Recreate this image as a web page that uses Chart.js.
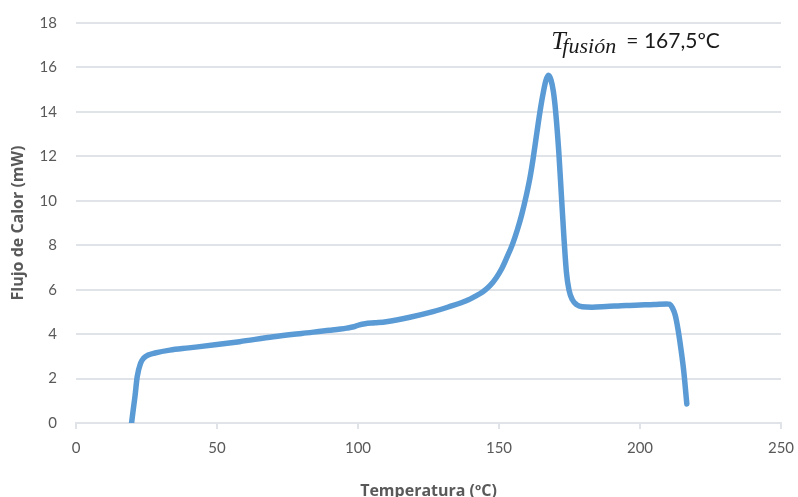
<!DOCTYPE html>
<html>
<head>
<meta charset="utf-8">
<script src="https://cdn.jsdelivr.net/npm/chart.js@4.4.1/dist/chart.umd.min.js"></script>
<style>
  html, body { margin: 0; padding: 0; background: #ffffff; }
  #wrap { width: 798px; height: 497px; position: relative; }
</style>
</head>
<body>
<div id="wrap"><canvas id="dsc"></canvas></div>
<script>
// DSC heating curve: temperature (ºC) vs heat flow (mW)
const temperature = [
  19.7, 20.3, 20.9, 21.7, 22.9, 24.0, 25.6, 28.0, 33.3, 40.0,
  50.0, 58.0, 70.0, 80.0, 90.0, 96.0, 98.5, 100.5, 102.5, 106.0,
  110.0, 118.4, 126.6, 132.0, 138.4, 141.5, 144.3, 146.8, 149.1, 151.0,
  152.8, 154.8, 156.4, 158.0, 159.7, 161.0, 162.1, 163.3, 164.4, 165.6,
  166.6, 167.5, 168.4, 169.3, 170.1, 171.2, 172.1, 173.0, 173.9, 174.8,
  176.0, 177.5, 179.5, 183.0, 188.0, 195.0, 200.0, 205.0, 209.5, 210.5,
  211.5, 212.5, 213.5, 214.5, 215.5, 216.6
];
const heatFlow = [
  0.00, 0.60, 1.18, 2.08, 2.69, 2.92, 3.06, 3.15, 3.28, 3.38,
  3.53, 3.66, 3.88, 4.03, 4.17, 4.27, 4.33, 4.42, 4.47, 4.51,
  4.56, 4.76, 5.01, 5.22, 5.50, 5.70, 5.91, 6.18, 6.55, 6.95,
  7.45, 8.05, 8.65, 9.35, 10.25, 11.05, 11.90, 12.95, 13.90, 14.80,
  15.40, 15.65, 15.45, 14.90, 14.00, 12.20, 10.30, 8.40, 6.80, 6.00,
  5.55, 5.33, 5.23, 5.21, 5.24, 5.29, 5.31, 5.33, 5.36, 5.34,
  5.18, 4.85, 4.20, 3.35, 2.35, 0.86
];
const xTicks = [0, 50, 100, 150, 200, 250];
const yTicks = [0, 2, 4, 6, 8, 10, 12, 14, 16, 18];
const meltingPoint = 167.5;
const meltingLabel = '= 167,5ºC';

const points = temperature.map((t, i) => ({ x: t, y: heatFlow[i] }));

const labelGray = '#595959';
const gridGray = '#e0e3e7';

// Melting temperature note written above the peak: T_fusión = 167,5ºC
const meltingNote = {
  id: 'meltingNote',
  afterDraw(chart) {
    const ctx = chart.ctx;
    const xs = chart.scales.x;
    const x0 = xs.getPixelForValue(meltingPoint);
    ctx.save();
    ctx.fillStyle = '#1a1a1a';
    ctx.textBaseline = 'alphabetic';
    ctx.textAlign = 'left';
    ctx.font = 'italic 26px "Liberation Serif", "DejaVu Serif", serif';
    ctx.fillText('T', x0 + 3, 49);
    ctx.font = 'italic 22px "Liberation Serif", "DejaVu Serif", serif';
    ctx.fillText('fusión', x0 + 14, 53);
    ctx.font = '21px Lato, "Open Sans", sans-serif';
    ctx.fillText(meltingLabel, x0 + 78, 48);
    ctx.restore();
  }
};

new Chart(document.getElementById('dsc'), {
  type: 'line',
  data: {
    datasets: [{
      data: points,
      borderColor: '#5b9bd5',
      borderWidth: 5.5,
      pointRadius: 0,
      fill: false,
      cubicInterpolationMode: 'monotone',
      borderCapStyle: 'round',
      borderJoinStyle: 'round'
    }]
  },
  options: {
    responsive: true,
    maintainAspectRatio: false,
    animation: false,
    layout: { padding: { top: 23, right: 17, bottom: 0, left: 0 } },
    plugins: { legend: { display: false }, tooltip: { enabled: false } },
    scales: {
      x: {
        type: 'linear',
        min: 0,
        max: 250,
        afterBuildTicks(scale) { scale.ticks = xTicks.map(v => ({ value: v })); },
        afterFit(scale) {
          scale.height = 74;
          scale.paddingLeft = 0;
          scale.paddingRight = 0;
        },
        grid: { drawOnChartArea: false, drawTicks: true, tickLength: 6, color: gridGray, lineWidth: 2 },
        border: { display: true, color: gridGray, width: 2 },
        ticks: { color: labelGray, padding: 10, font: { family: 'Lato, "Open Sans", sans-serif', size: 15 } },
        title: {
          display: true,
          text: 'Temperatura (ºC)',
          color: labelGray,
          padding: { top: 0, bottom: -3.6 },
          font: { family: '"Open Sans", Lato, sans-serif', size: 16, weight: 'bold' }
        }
      },
      y: {
        min: 0,
        max: 18,
        afterBuildTicks(scale) { scale.ticks = yTicks.map(v => ({ value: v })); },
        afterFit(scale) {
          scale.width = 76;
          scale.paddingTop = 0;
          scale.paddingBottom = 0;
        },
        grid: { drawTicks: false, color: gridGray, lineWidth: 2 },
        border: { display: false },
        ticks: { color: labelGray, padding: 19, font: { family: 'Lato, "Open Sans", sans-serif', size: 15 } },
        title: {
          display: true,
          text: 'Flujo de Calor (mW)',
          color: labelGray,
          padding: { top: 8.4, bottom: 0 },
          font: { family: '"Open Sans", Lato, sans-serif', size: 16, weight: 'bold' }
        }
      }
    }
  },
  plugins: [meltingNote]
});
</script>
</body>
</html>
